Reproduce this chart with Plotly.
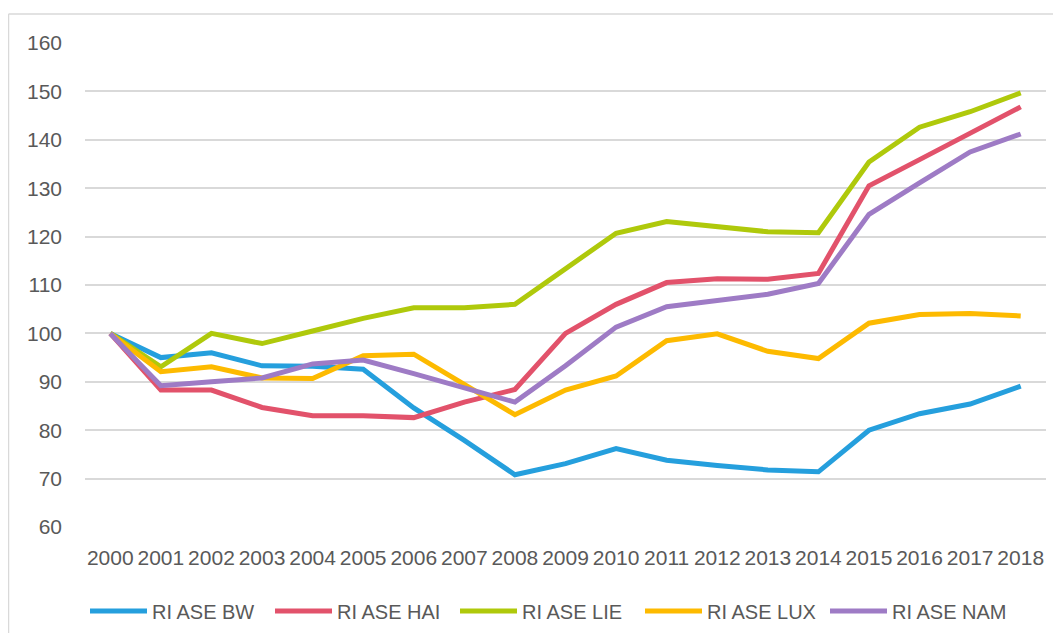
import plotly.graph_objects as go

years = [str(y) for y in range(2000, 2019)]

ri_ase_bw = [100, 95.0, 96.0, 93.3, 93.2, 92.6, 84.6, 77.9, 70.8, 73.1, 76.2, 73.8, 72.7, 71.8, 71.4, 80.0, 83.4, 85.4, 89.1]
ri_ase_hai = [100, 88.3, 88.3, 84.7, 83.0, 83.0, 82.6, 85.8, 88.4, 100.0, 106.0, 110.5, 111.3, 111.2, 112.4, 130.5, 135.9, 141.4, 146.8]
ri_ase_lie = [100, 93.1, 100.0, 97.9, 100.5, 103.1, 105.3, 105.3, 106.0, 113.2, 120.7, 123.1, 122.1, 121.0, 120.8, 135.4, 142.6, 145.8, 149.7]
ri_ase_lux = [100, 92.1, 93.1, 90.8, 90.7, 95.4, 95.7, 89.3, 83.2, 88.3, 91.2, 98.5, 99.9, 96.3, 94.8, 102.1, 103.9, 104.1, 103.6]
ri_ase_nam = [100, 89.2, 90.0, 90.8, 93.7, 94.5, 91.7, 88.8, 85.8, 93.3, 101.3, 105.5, 106.7, 108.1, 110.3, 124.6, 131.1, 137.5, 141.2]

series_names = ["RI ASE BW", "RI ASE HAI", "RI ASE LIE", "RI ASE LUX", "RI ASE NAM"]
series_values = [ri_ase_bw, ri_ase_hai, ri_ase_lie, ri_ase_lux, ri_ase_nam]
colors = ["#259FDD", "#E2526B", "#AFC90B", "#FDBA00", "#9E7BC5"]

y_ticks = [60, 70, 80, 90, 100, 110, 120, 130, 140, 150, 160]

fig = go.Figure()
for name, vals, col in zip(series_names, series_values, colors):
    fig.add_trace(go.Scatter(
        x=years, y=vals, name=name, mode="lines",
        line=dict(color=col, width=5),
    ))

font_family = "Liberation Sans, Arial, sans-serif"
text_color = "#595959"

fig.update_layout(
    width=1053, height=625,
    margin=dict(l=77, r=15, t=35, b=106),
    paper_bgcolor="white", plot_bgcolor="white",
    font=dict(family=font_family, size=21, color=text_color),
    xaxis=dict(
        type="category", range=[-0.5, 18.5],
        showgrid=False, zeroline=False, showline=False,
        ticks="", tickfont=dict(size=21, color=text_color),
        tickangle=0, ticklabelstandoff=16,
    ),
    yaxis=dict(
        range=[60, 160], tickvals=y_ticks,
        showgrid=True, gridcolor="#D9D9D9", gridwidth=1.5,
        zeroline=False, showline=False, ticks="",
        tickfont=dict(size=21, color=text_color),
        ticklabelstandoff=22,
    ),
    legend=dict(
        orientation="h", x=0, xanchor="left",
        yref="container", y=1 - 603 / 625, yanchor="middle",
        font=dict(size=20, color=text_color),
        entrywidth=113, entrywidthmode="pixels",
        itemwidth=57, bgcolor="rgba(0,0,0,0)",
    ),
    showlegend=True,
    shapes=[
        dict(type="line", xref="paper", yref="paper",
             x0=(8.5 - 85) / 961, x1=1.02, y0=(527 - 14) / 484, y1=(527 - 14) / 484,
             line=dict(color="#D9D9D9", width=1.5)),
        dict(type="line", xref="paper", yref="paper",
             x0=(8.5 - 85) / 961, x1=(8.5 - 85) / 961, y0=(527 - 14) / 484, y1=-0.25,
             line=dict(color="#D9D9D9", width=1.5)),
    ],
)

fig.write_html("out.html")
